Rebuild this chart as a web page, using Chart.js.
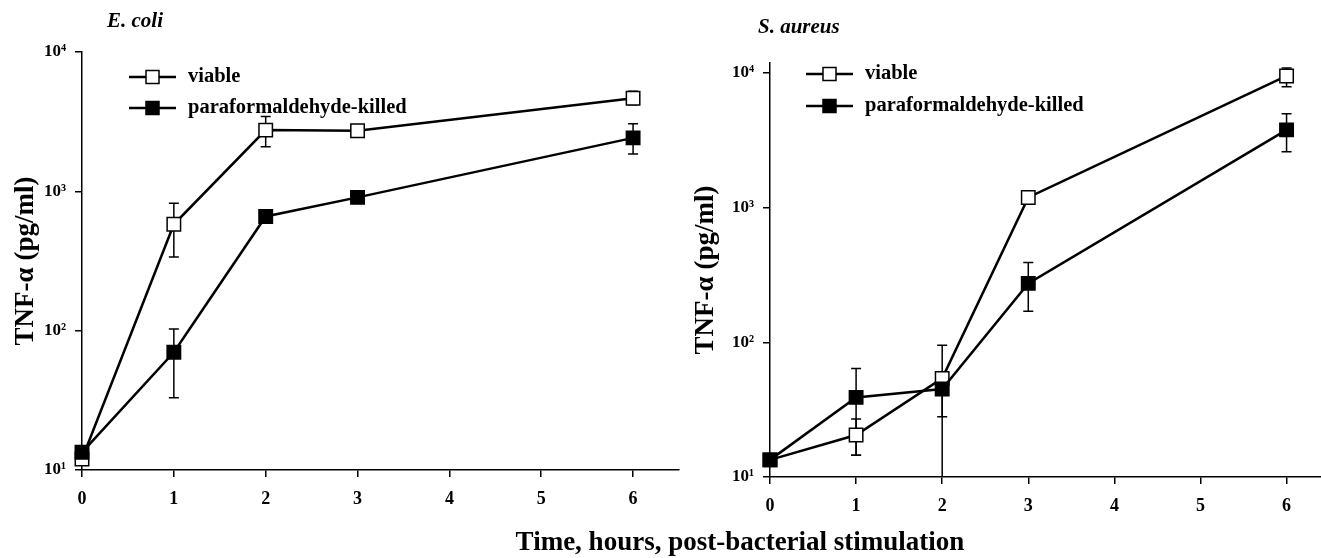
<!DOCTYPE html>
<html>
<head>
<meta charset="utf-8">
<script src="https://cdn.jsdelivr.net/npm/chart.js@4.4.1/dist/chart.umd.min.js"></script>
<style>
    html, body { margin: 0; padding: 0; background: #fff; }
    #wrap { position: relative; width: 1321px; height: 558px; overflow: hidden; }
    #leftChart { position: absolute; left: 0; top: 0; }
    #rightChart { position: absolute; left: 680px; top: 0; }
    #xTitle {
        position: absolute; left: 740px; top: 526px; transform: translateX(-50%);
        font: bold 27px "Liberation Serif", serif; line-height: 30px; white-space: nowrap; color: #000;
    }
</style>
</head>
<body>
<div id="wrap">
    <canvas id="leftChart" width="680" height="558"></canvas>
    <canvas id="rightChart" width="641" height="558"></canvas>
    <div id="xTitle">Time, hours, post-bacterial stimulation</div>
</div>
<script>
// Shared axis values
const hours = [0, 1, 2, 3, 6];
const xTickValues = [0, 1, 2, 3, 4, 5, 6];
const yTickValues = [10, 100, 1000, 10000];
const yTickLabels = ['10¹', '10²', '10³', '10⁴'];
const seriesNames = ['viable', 'paraformaldehyde-killed'];
const yAxisTitle = 'TNF-α (pg/ml)';

// E. coli panel (pg/ml), error bar ends where visible
const ecoliViable = [12, 580, 2750, 2720, 4650];
const ecoliViableLow = [null, 338, 2090, null, 4180];
const ecoliViableHigh = [null, 820, 3440, null, 5220];
const ecoliKilled = [13.4, 70, 660, 905, 2420];
const ecoliKilledLow = [null, 33, null, null, 1850];
const ecoliKilledHigh = [null, 103, null, null, 3060];

// S. aureus panel (pg/ml)
const aureusViable = [13.4, 20.5, 54, 1190, 9500];
const aureusViableLow = [null, 14.5, 28, null, 7900];
const aureusViableHigh = [null, 27, 60, null, 10900];
const aureusKilled = [13.4, 39, 45, 274, 3780];
const aureusKilledLow = [null, 14.5, 5, 170, 2600];
const aureusKilledHigh = [null, 64, 95, 392, 4970];

Chart.defaults.font.family = '"Liberation Serif", "Times New Roman", serif';
Chart.defaults.font.weight = 'bold';
Chart.defaults.color = '#000';

// Draws vertical error bars with caps underneath the markers
const errorBars = {
    id: 'errorBars',
    beforeDatasetsDraw(chart) {
        const { ctx, chartArea, scales: { x, y } } = chart;
        ctx.save();
        ctx.beginPath();
        ctx.rect(chartArea.left - 10, chartArea.top, chartArea.width + 20, chartArea.height);
        ctx.clip();
        ctx.strokeStyle = '#000';
        ctx.lineWidth = 1.5;
        chart.data.datasets.forEach(ds => {
            ds.data.forEach((pt, i) => {
                const lo = ds.errLow[i];
                const hi = ds.errHigh[i];
                if (lo == null || hi == null) return;
                const px = x.getPixelForValue(pt.x);
                const yLo = y.getPixelForValue(lo);
                const yHi = y.getPixelForValue(hi);
                ctx.beginPath();
                ctx.moveTo(px, yLo);
                ctx.lineTo(px, yHi);
                ctx.moveTo(px - 5, yHi);
                ctx.lineTo(px + 5, yHi);
                if (yLo < chartArea.bottom) {
                    ctx.moveTo(px - 5, yLo);
                    ctx.lineTo(px + 5, yLo);
                }
                ctx.stroke();
            });
        });
        ctx.restore();
    }
};

// Panel title and in-plot legend
const panelText = {
    id: 'panelText',
    afterDraw(chart, args, opts) {
        const { ctx } = chart;
        ctx.save();
        ctx.fillStyle = '#000';
        ctx.textBaseline = 'middle';
        ctx.font = 'italic bold 21px "Liberation Serif", serif';
        ctx.fillText(opts.title, opts.titleX, opts.titleY);

        ctx.font = 'bold 20.5px "Liberation Serif", serif';
        chart.data.datasets.forEach((ds, i) => {
            const ly = opts.legendY[i];
            const lx = opts.legendX;
            ctx.strokeStyle = '#000';
            ctx.lineWidth = 2.5;
            ctx.beginPath();
            ctx.moveTo(lx, ly);
            ctx.lineTo(lx + 47, ly);
            ctx.stroke();
            const s = 13;
            ctx.fillStyle = ds.pointBackgroundColor;
            ctx.fillRect(lx + 23.5 - s / 2, ly - s / 2, s, s);
            ctx.lineWidth = 1.5;
            ctx.strokeRect(lx + 23.5 - s / 2, ly - s / 2, s, s);
            ctx.fillStyle = '#000';
            ctx.fillText(ds.label, lx + 59, ly);
        });
        ctx.restore();
    }
};

function toPoints(values) {
    return hours.map((h, i) => ({ x: h, y: values[i] }));
}

function makeDataset(label, values, low, high, fill, order) {
    return {
        label: label,
        data: toPoints(values),
        errLow: low,
        errHigh: high,
        borderColor: '#000',
        borderWidth: 2.5,
        pointStyle: 'rect',
        pointRadius: 9.5,
        pointHoverRadius: 9.5,
        pointBackgroundColor: fill,
        pointBorderColor: '#000',
        pointBorderWidth: 1.5,
        tension: 0,
        clip: false,
        order: order
    };
}

function makeChart(canvasId, cfg) {
    const axisGrid = {
        display: true,
        drawOnChartArea: false,
        drawTicks: true,
        tickLength: 7,
        color: '#000',
        lineWidth: 1.5
    };
    return new Chart(document.getElementById(canvasId), {
        type: 'line',
        data: {
            datasets: [
                makeDataset(seriesNames[0], cfg.viable, cfg.viableLow, cfg.viableHigh, '#fff', 1),
                makeDataset(seriesNames[1], cfg.killed, cfg.killedLow, cfg.killedHigh, '#000', 0)
            ]
        },
        options: {
            responsive: false,
            animation: false,
            events: [],
            layout: { autoPadding: false, padding: { top: cfg.top, right: cfg.right, left: 0, bottom: 0 } },
            scales: {
                x: {
                    type: 'linear',
                    min: 0,
                    max: cfg.xMax,
                    afterBuildTicks: scale => { scale.ticks = xTickValues.map(v => ({ value: v })); },
                    afterFit: scale => { scale.height = cfg.xHeight; },
                    ticks: { padding: 12, font: { size: 18, weight: 'bold' }, callback: v => String(v) },
                    grid: axisGrid,
                    border: { display: true, color: '#000', width: 1.5 }
                },
                y: {
                    type: 'logarithmic',
                    min: 10,
                    max: cfg.yMax,
                    afterBuildTicks: scale => { scale.ticks = yTickValues.map(v => ({ value: v })); },
                    afterFit: scale => { scale.width = cfg.yWidth; },
                    ticks: {
                        padding: 9,
                        font: { size: 17, weight: 'bold' },
                        callback: v => yTickLabels[yTickValues.indexOf(v)]
                    },
                    grid: axisGrid,
                    border: { display: true, color: '#000', width: 1.5 },
                    title: {
                        display: true,
                        text: yAxisTitle,
                        font: { size: 27, weight: 'bold' },
                        padding: { top: cfg.titlePad, bottom: 0 }
                    }
                }
            },
            plugins: {
                legend: { display: false },
                tooltip: { enabled: false },
                panelText: cfg.text
            }
        },
        plugins: [errorBars, panelText]
    });
}

makeChart('leftChart', {
    viable: ecoliViable, viableLow: ecoliViableLow, viableHigh: ecoliViableHigh,
    killed: ecoliKilled, killedLow: ecoliKilledLow, killedHigh: ecoliKilledHigh,
    top: 52, right: 1, xMax: 6.5, yMax: 10000, xHeight: 88, yWidth: 82, titlePad: 10,
    text: { title: 'E. coli', titleX: 107, titleY: 22, legendX: 129, legendY: [77, 108] }
});

makeChart('rightChart', {
    viable: aureusViable, viableLow: aureusViableLow, viableHigh: aureusViableHigh,
    killed: aureusKilled, killedLow: aureusKilledLow, killedHigh: aureusKilledHigh,
    top: 63, right: 0, xMax: 6.4, yMax: 11860, xHeight: 81, yWidth: 90, titlePad: 10,
    text: { title: 'S. aureus', titleX: 78, titleY: 28, legendX: 126, legendY: [74, 106] }
});
</script>
</body>
</html>
